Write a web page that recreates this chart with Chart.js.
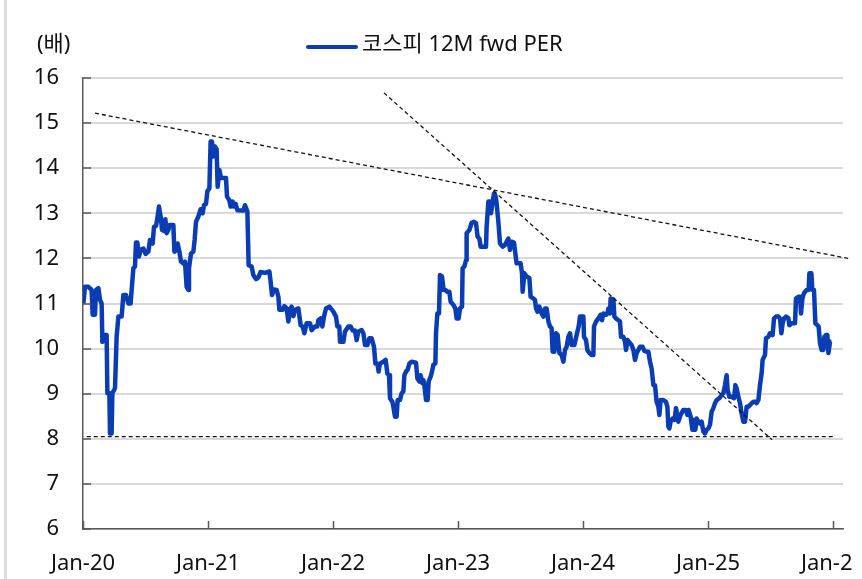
<!DOCTYPE html>
<html>
<head>
<meta charset="utf-8">
<script src="https://cdn.jsdelivr.net/npm/chart.js@4.4.1/dist/chart.umd.min.js"></script>
<style>
html, body { margin: 0; padding: 0; background: #fff; overflow: hidden; }
#wrap { position: relative; width: 853px; height: 579px; overflow: hidden; }
#perChart { position: absolute; left: 0; top: 0; }
#frame { position: absolute; left: 4px; top: 0; width: 3px; height: 579px; background: #dcdcdc; }
</style>
</head>
<body>
<div id="wrap">
  <canvas id="perChart" width="900" height="579"></canvas>
  <div id="frame"></div>
</div>
<script>
// 코스피 12M fwd PER (배), x = 연도(소수)
const perDates = [
  2020.003, 2020.016, 2020.043, 2020.069, 2020.077, 2020.096, 2020.104, 2020.123, 2020.136, 2020.149,
  2020.155, 2020.176, 2020.189, 2020.195, 2020.211, 2020.216, 2020.229, 2020.235, 2020.256, 2020.269,
  2020.283, 2020.309, 2020.323, 2020.344, 2020.363, 2020.381, 2020.389, 2020.403, 2020.416, 2020.424,
  2020.435, 2020.448, 2020.461, 2020.483, 2020.501, 2020.523, 2020.536, 2020.557, 2020.568, 2020.584,
  2020.595, 2020.608, 2020.624, 2020.632, 2020.648, 2020.659, 2020.669, 2020.683, 2020.691, 2020.723,
  2020.731, 2020.749, 2020.757, 2020.771, 2020.784, 2020.803, 2020.816, 2020.829, 2020.843, 2020.848,
  2020.864, 2020.883, 2020.893, 2020.904, 2020.923, 2020.941, 2020.957, 2020.968, 2020.984, 2020.995,
  2021.011, 2021.021, 2021.032, 2021.043, 2021.056, 2021.069, 2021.077, 2021.091, 2021.104, 2021.123,
  2021.144, 2021.152, 2021.171, 2021.181, 2021.197, 2021.208, 2021.221, 2021.235, 2021.283, 2021.296,
  2021.315, 2021.325, 2021.349, 2021.363, 2021.384, 2021.403, 2021.421, 2021.456, 2021.491, 2021.501,
  2021.512, 2021.528, 2021.549, 2021.563, 2021.571, 2021.597, 2021.611, 2021.629, 2021.643, 2021.656,
  2021.669, 2021.683, 2021.696, 2021.723, 2021.741, 2021.757, 2021.771, 2021.789, 2021.816, 2021.829,
  2021.856, 2021.875, 2021.883, 2021.901, 2021.915, 2021.928, 2021.944, 2021.971,
  2022.003, 2022.024, 2022.035, 2022.051, 2022.056, 2022.083, 2022.096, 2022.123, 2022.141, 2022.157,
  2022.176, 2022.189, 2022.203, 2022.229, 2022.243, 2022.256, 2022.275, 2022.291, 2022.309, 2022.328,
  2022.339, 2022.355, 2022.365, 2022.376, 2022.403, 2022.421, 2022.435, 2022.448, 2022.456, 2022.475,
  2022.483, 2022.496, 2022.509, 2022.517, 2022.536, 2022.549, 2022.563, 2022.571, 2022.584, 2022.597,
  2022.611, 2022.629, 2022.664, 2022.675, 2022.691, 2022.701, 2022.715, 2022.723, 2022.731, 2022.744,
  2022.757, 2022.765, 2022.781, 2022.792, 2022.803, 2022.819, 2022.824, 2022.835, 2022.848, 2022.856,
  2022.872, 2022.885, 2022.899, 2022.915, 2022.931, 2022.941, 2022.963, 2022.979, 2022.989,
  2023.005, 2023.016, 2023.032, 2023.037, 2023.051, 2023.064, 2023.069, 2023.091, 2023.109, 2023.128,
  2023.144, 2023.157, 2023.171, 2023.181, 2023.224, 2023.229, 2023.243, 2023.256, 2023.264, 2023.277,
  2023.288, 2023.301, 2023.309, 2023.323, 2023.336, 2023.357, 2023.376, 2023.389, 2023.403, 2023.416,
  2023.429, 2023.448, 2023.459, 2023.469, 2023.501, 2023.512, 2023.517, 2023.531, 2023.549, 2023.571,
  2023.581, 2023.603, 2023.616, 2023.624, 2023.635, 2023.651, 2023.669, 2023.683, 2023.696, 2023.709,
  2023.723, 2023.736, 2023.749, 2023.757, 2023.771, 2023.784, 2023.797, 2023.811, 2023.829, 2023.843,
  2023.856, 2023.869, 2023.883, 2023.896, 2023.909, 2023.931, 2023.949, 2023.965, 2023.976,
  2024.003, 2024.008, 2024.024, 2024.035, 2024.051, 2024.069, 2024.083, 2024.088, 2024.104, 2024.123,
  2024.141, 2024.152, 2024.163, 2024.184, 2024.195, 2024.203, 2024.216, 2024.221, 2024.243, 2024.251,
  2024.264, 2024.283, 2024.296, 2024.304, 2024.323, 2024.336, 2024.344, 2024.357, 2024.376, 2024.389,
  2024.403, 2024.416, 2024.429, 2024.443, 2024.456, 2024.477, 2024.491, 2024.509, 2024.523, 2024.536,
  2024.549, 2024.563, 2024.576, 2024.589, 2024.603, 2024.611, 2024.621, 2024.643, 2024.664, 2024.675,
  2024.683, 2024.691, 2024.701, 2024.717, 2024.733, 2024.744, 2024.763, 2024.781, 2024.803, 2024.824,
  2024.835, 2024.845, 2024.861, 2024.875, 2024.888, 2024.899, 2024.909, 2024.923, 2024.936, 2024.949,
  2024.963, 2024.976, 2024.989,
  2025.003, 2025.016, 2025.029, 2025.043, 2025.056, 2025.069, 2025.091, 2025.109, 2025.123, 2025.136,
  2025.149, 2025.157, 2025.171, 2025.189, 2025.208, 2025.219, 2025.229, 2025.243, 2025.256, 2025.269,
  2025.283, 2025.296, 2025.309, 2025.323, 2025.336, 2025.349, 2025.363, 2025.379, 2025.389, 2025.403,
  2025.416, 2025.429, 2025.437, 2025.456, 2025.464, 2025.483, 2025.496, 2025.517, 2025.528, 2025.544,
  2025.563, 2025.576, 2025.587, 2025.597, 2025.608, 2025.624, 2025.643, 2025.651, 2025.669, 2025.683,
  2025.696, 2025.704, 2025.723, 2025.736, 2025.744, 2025.755, 2025.768, 2025.789, 2025.805, 2025.811,
  2025.827, 2025.835, 2025.848, 2025.859, 2025.875, 2025.885, 2025.896, 2025.909, 2025.923, 2025.931,
  2025.944, 2025.955, 2025.963, 2025.976, 2025.989
];
const perValues = [
  11.00, 11.37, 11.37, 11.30, 10.75, 10.75, 11.30, 11.34, 11.08, 11.00,
  10.15, 10.30, 10.30, 9.01, 9.01, 8.12, 8.12, 9.01, 9.12, 10.26,
  10.71, 10.71, 11.19, 11.19, 11.00, 11.00, 11.30, 11.78, 11.82, 12.35,
  12.35, 12.04, 12.19, 12.22, 12.10, 12.15, 12.41, 12.33, 12.70, 12.72,
  12.89, 13.15, 12.87, 12.63, 12.61, 12.87, 12.56, 12.63, 12.74, 12.74,
  12.15, 12.19, 12.33, 12.15, 11.93, 11.89, 11.93, 11.37, 11.30, 11.78,
  12.11, 12.15, 12.41, 12.81, 12.93, 13.09, 13.00, 13.18, 13.21, 13.49,
  13.55, 14.59, 14.59, 14.26, 14.48, 14.42, 13.59, 13.96, 13.78, 13.78,
  13.78, 13.37, 13.29, 13.15, 13.26, 13.15, 13.21, 13.07, 13.06, 13.18,
  13.04, 11.85, 11.82, 11.63, 11.54, 11.58, 11.70, 11.68, 11.71, 11.48,
  11.19, 11.31, 11.30, 11.15, 10.86, 10.86, 10.94, 10.89, 10.60, 10.87,
  10.93, 10.72, 10.86, 10.89, 10.52, 10.49, 10.34, 10.56, 10.56, 10.41,
  10.49, 10.49, 10.63, 10.67, 10.49, 10.71, 10.89, 10.93,
  10.82, 10.71, 10.49, 10.49, 10.15, 10.15, 10.38, 10.49, 10.49, 10.40,
  10.40, 10.19, 10.38, 10.41, 10.34, 10.08, 10.08, 10.23, 10.23, 10.04,
  9.67, 9.67, 9.49, 9.67, 9.71, 9.75, 9.45, 9.41, 8.90, 8.82,
  8.71, 8.49, 8.49, 8.86, 8.86, 9.01, 9.05, 9.41, 9.49, 9.53,
  9.67, 9.71, 9.69, 9.34, 9.27, 9.41, 9.23, 9.30, 9.19, 8.86,
  8.86, 9.27, 9.38, 9.49, 9.64, 9.67, 10.34, 10.78, 10.78, 11.63,
  11.60, 11.30, 11.30, 11.26, 11.26, 11.04, 10.97, 10.89, 10.67,
  10.67, 10.89, 10.93, 11.78, 11.82, 11.96, 12.56, 12.63, 12.79, 12.81,
  12.78, 12.48, 12.44, 12.26, 12.26, 12.70, 13.26, 13.26, 13.00, 13.26,
  13.44, 13.38, 13.22, 12.81, 12.33, 12.26, 12.30, 12.37, 12.44, 12.19,
  12.37, 12.35, 12.11, 11.89, 11.89, 11.67, 11.26, 11.67, 11.60, 11.56,
  11.15, 11.11, 11.08, 10.89, 10.82, 10.93, 10.78, 10.71, 10.89, 10.89,
  10.60, 10.49, 10.45, 9.93, 9.93, 10.34, 10.30, 9.90, 9.86, 9.71,
  9.97, 10.04, 10.26, 10.34, 10.08, 10.08, 10.30, 10.49, 10.71,
  10.71, 10.26, 10.19, 9.97, 9.90, 9.86, 9.86, 10.49, 10.60, 10.67,
  10.75, 10.63, 10.78, 10.75, 10.78, 10.89, 10.78, 11.11, 11.09, 10.71,
  10.67, 10.63, 10.60, 10.26, 10.26, 10.15, 9.97, 10.19, 10.12, 10.08,
  9.97, 9.75, 9.90, 9.97, 10.04, 10.04, 9.95, 9.93, 9.93, 9.71,
  9.56, 9.19, 9.19, 8.82, 8.71, 8.53, 8.86, 8.86, 8.82, 8.71,
  8.27, 8.23, 8.38, 8.45, 8.42, 8.68, 8.38, 8.53, 8.64, 8.64,
  8.53, 8.64, 8.49, 8.20, 8.42, 8.20, 8.45, 8.38, 8.34, 8.38,
  8.16, 8.12, 8.20,
  8.23, 8.31, 8.60, 8.68, 8.79, 8.86, 8.90, 8.97, 9.01, 9.19,
  9.41, 9.08, 8.93, 8.93, 8.90, 9.19, 9.12, 8.93, 8.79, 8.56,
  8.38, 8.38, 8.71, 8.71, 8.75, 8.79, 8.82, 8.82, 8.79, 8.86,
  9.19, 9.45, 9.75, 9.86, 10.23, 10.26, 10.34, 10.30, 10.67, 10.71,
  10.71, 10.67, 10.34, 10.56, 10.67, 10.71, 10.67, 10.52, 10.56, 10.56,
  10.56, 11.11, 11.15, 11.15, 10.78, 11.11, 11.23, 11.30, 11.30, 11.67,
  11.67, 11.30, 11.30, 10.56, 10.52, 10.49, 10.12, 9.97, 9.97, 10.26,
  10.30, 10.30, 9.90, 10.15, 10.16
];

// 추세선 (점선)
const trendLongX = [2020.096, 2026.14];
const trendLongY = [15.22, 11.99];
const trendSteepX = [2022.408, 2025.512];
const trendSteepY = [15.67, 7.98];
const floorX = [2020.03, 2026.02];
const floorY = [8.05, 8.05];

const xTickValues = [2020, 2021, 2022, 2023, 2024, 2025, 2026];
const xTickLabels = ['Jan-20', 'Jan-21', 'Jan-22', 'Jan-23', 'Jan-24', 'Jan-25', 'Jan-26'];
const yTickValues = [6, 7, 8, 9, 10, 11, 12, 13, 14, 15, 16];

const FONT = '"Noto Sans", "Noto Sans CJK KR", sans-serif';
const BLUE = '#0a3cb4';

function toPoints(xs, ys) {
    return xs.map((x, i) => ({ x: x, y: ys[i] }));
}

function dashed(xs, ys) {
    return {
        data: toPoints(xs, ys),
        borderColor: '#111',
        borderWidth: 1.3,
        borderDash: [4, 3],
        pointRadius: 0,
        clip: false,
        order: 0
    };
}

// 축 안쪽 눈금, 단위, 범례
const decorPlugin = {
    id: 'decor',
    afterDraw(chart) {
        const { ctx, chartArea, scales } = chart;
        ctx.save();
        ctx.strokeStyle = '#595959';
        ctx.lineWidth = 1.5;
        ctx.beginPath();
        xTickValues.forEach(v => {
            const px = Math.round(scales.x.getPixelForValue(v)) + 0.5;
            ctx.moveTo(px, chartArea.bottom);
            ctx.lineTo(px, chartArea.bottom - 8);
        });
        yTickValues.forEach(v => {
            const py = Math.round(scales.y.getPixelForValue(v));
            ctx.moveTo(chartArea.left, py);
            ctx.lineTo(chartArea.left + 8, py);
        });
        ctx.stroke();

        ctx.fillStyle = '#111';
        ctx.font = '22px ' + FONT;
        ctx.textBaseline = 'middle';
        ctx.textAlign = 'left';
        ctx.fillText('(배)', 37, 45);

        ctx.strokeStyle = BLUE;
        ctx.lineWidth = 4;
        ctx.lineCap = 'round';
        ctx.beginPath();
        ctx.moveTo(308, 47);
        ctx.lineTo(356, 47);
        ctx.stroke();
        ctx.fillText(chart.data.datasets[0].label, 362, 45);
        ctx.restore();
    }
};

new Chart(document.getElementById('perChart'), {
    type: 'line',
    data: {
        datasets: [
            {
                label: '코스피 12M fwd PER',
                data: toPoints(perDates, perValues),
                borderColor: BLUE,
                borderWidth: 4.5,
                borderJoinStyle: 'round',
                pointRadius: 0,
                tension: 0,
                order: 1
            },
            dashed(trendLongX, trendLongY),
            dashed(trendSteepX, trendSteepY),
            dashed(floorX, floorY)
        ]
    },
    options: {
        responsive: false,
        animation: false,
        events: [],
        layout: { padding: { left: 0, right: 57, top: 78, bottom: 0 } },
        plugins: { legend: { display: false }, tooltip: { enabled: false } },
        scales: {
            x: {
                type: 'linear',
                min: 2020,
                max: 2026.08,
                afterBuildTicks: axis => { axis.ticks = xTickValues.map(v => ({ value: v })); },
                afterFit: axis => { axis.height = 50; },
                ticks: {
                    autoSkip: false,
                    maxRotation: 0,
                    padding: 22,
                    color: '#111',
                    font: { family: FONT, size: 22 },
                    callback: (value, index) => xTickLabels[index]
                },
                grid: { display: true, drawOnChartArea: false, drawTicks: false },
                border: { color: '#595959', width: 1.5 }
            },
            y: {
                min: 6,
                max: 16,
                afterBuildTicks: axis => { axis.ticks = yTickValues.map(v => ({ value: v })); },
                afterFit: axis => { axis.width = 83; },
                ticks: {
                    padding: 24,
                    color: '#111',
                    font: { family: FONT, size: 22 }
                },
                grid: { color: '#d9d9d9', lineWidth: 2, drawTicks: false },
                border: { color: '#595959', width: 1.5 }
            }
        }
    },
    plugins: [decorPlugin]
});
</script>
</body>
</html>
